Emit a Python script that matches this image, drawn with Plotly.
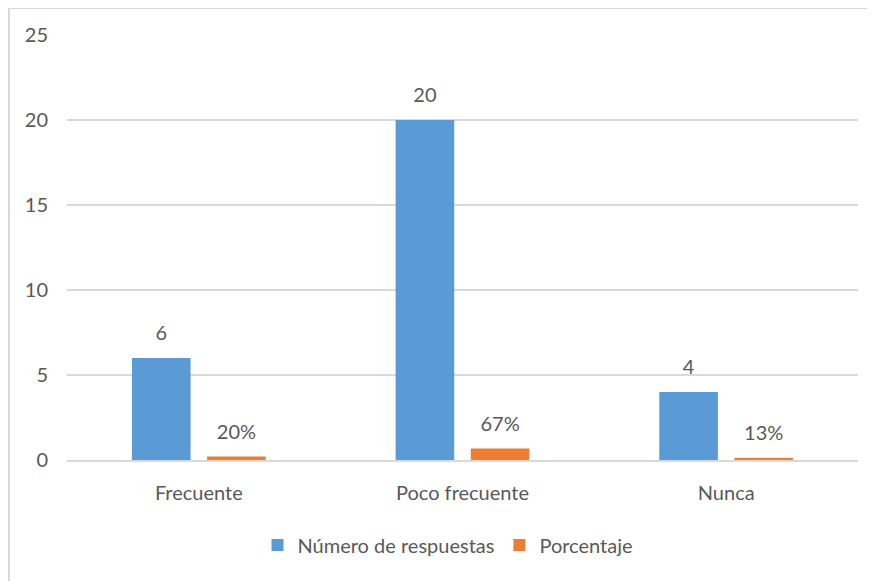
import plotly.graph_objects as go

categories = ["Frecuente", "Poco frecuente", "Nunca"]
respuestas = [6, 20, 4]
porcentaje = [0.20, 0.67, 0.13]
respuestas_labels = ["6", "20", "4"]
porcentaje_labels = ["20%", "67%", "13%"]
y_ticks = [0, 5, 10, 15, 20, 25]

# page body has an 8px margin, so the figure is placed at (8, 8) in the window
OFF = 8
W, H = 875 - OFF, 581 - OFF
L, R, T, B = 67 - OFF, 17, 35 - OFF, 121
pw, ph = W - L - R, H - T - B

FONT = "Lato, Calibri, Carlito, sans-serif"
GRAY = "#595959"
FS = 20

fig = go.Figure()
fig.add_trace(go.Bar(
    x=categories, y=respuestas, name="Número de respuestas",
    marker=dict(color="#5B9BD5", line=dict(width=0)), offsetgroup="a",
))
fig.add_trace(go.Bar(
    x=categories, y=porcentaje, name="Porcentaje",
    marker=dict(color="#ED7D31", line=dict(width=0)), offsetgroup="b",
))
for vals, labs, grp in ((respuestas, respuestas_labels, "a"), (porcentaje, porcentaje_labels, "b")):
    fig.add_trace(go.Scatter(
        x=categories, y=vals, mode="markers+text", text=labs, textposition="top center",
        marker=dict(size=19, color="rgba(0,0,0,0)"), showlegend=False, hoverinfo="skip",
        offsetgroup=grp, cliponaxis=False,
        textfont=dict(family=FONT, size=FS, color=GRAY),
    ))

def px_x(p):
    return (p - OFF - L) / pw

def px_y(p):
    return (H - B - (p - OFF)) / ph

fig.add_shape(type="rect", xref="paper", yref="paper",
              x0=px_x(9), x1=px_x(900), y0=px_y(620), y1=px_y(8),
              line=dict(color="#D9D9D9", width=2), fillcolor="rgba(0,0,0,0)", layer="below")

fig.update_layout(
    width=W, height=H,
    margin=dict(l=L, r=R, t=T, b=B, pad=0),
    paper_bgcolor="white", plot_bgcolor="white",
    barmode="group", bargap=0.43, bargroupgap=0.22,
    scattermode="group", scattergap=0.43,
    font=dict(family=FONT, size=FS, color=GRAY),
    showlegend=True,
    legend=dict(orientation="h", x=px_x(448), xanchor="center", y=px_y(545), yanchor="middle",
                font=dict(family=FONT, size=FS, color=GRAY), itemwidth=30,
                traceorder="normal"),
    xaxis=dict(showgrid=False, showline=True, linecolor="#D9D9D9", linewidth=2,
               ticks="", ticklabelstandoff=14,
               tickfont=dict(family=FONT, size=FS, color=GRAY)),
    yaxis=dict(range=[0, 25], tickvals=y_ticks, showgrid=True, gridcolor="#D9D9D9", gridwidth=2,
               zeroline=False, showline=False, ticks="", ticklabelstandoff=18,
               tickfont=dict(family=FONT, size=FS, color=GRAY)),
)

fig.write_html("out.html")
